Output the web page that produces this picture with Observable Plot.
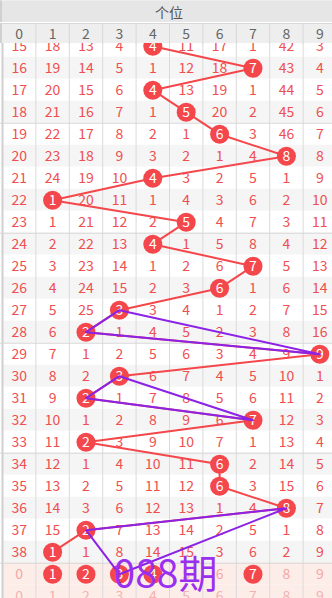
<!DOCTYPE html>
<html><head><meta charset="utf-8">
<script src="https://cdn.jsdelivr.net/npm/d3@7"></script>
<script src="https://cdn.jsdelivr.net/npm/@observablehq/plot@0.6"></script>
<style>
html,body{margin:0;padding:0;background:#fff;}
#wrap{position:relative;width:332px;height:598px;overflow:hidden;font-family:'Noto Sans CJK SC','Noto Sans',sans-serif;}
#hdr{position:absolute;left:0;top:0;width:336px;height:22px;background:#e6e6e6;border-top:1px solid #eeeeee;color:#555;font-size:14px;line-height:22px;text-align:center;border-left:2px solid #d0d0d0;box-sizing:border-box;}
#lbl{position:absolute;left:0;top:23px;width:336px;height:20px;background:#eeeeee;border-top:1px solid #d8d8d8;border-left:2px solid #d0d0d0;box-sizing:border-box;}
#chart{position:absolute;left:0;top:0;}
</style></head>
<body>
<div id="wrap">
  <div id="hdr">个位</div>
  <div id="lbl"></div>
  <div id="chart"></div>
</div>
<script>
const title = "个位";
const digits = [0,1,2,3,4,5,6,7,8,9];
const omission = [
  [15,18,13,4,4,11,17,1,42,3],
  [16,19,14,5,1,12,18,7,43,4],
  [17,20,15,6,4,13,19,1,44,5],
  [18,21,16,7,1,5,20,2,45,6],
  [19,22,17,8,2,1,6,3,46,7],
  [20,23,18,9,3,2,1,4,8,8],
  [21,24,19,10,4,3,2,5,1,9],
  [22,1,20,11,1,4,3,6,2,10],
  [23,1,21,12,2,5,4,7,3,11],
  [24,2,22,13,4,1,5,8,4,12],
  [25,3,23,14,1,2,6,7,5,13],
  [26,4,24,15,2,3,6,1,6,14],
  [27,5,25,3,3,4,1,2,7,15],
  [28,6,2,1,4,5,2,3,8,16],
  [29,7,1,2,5,6,3,4,9,9],
  [30,8,2,3,6,7,4,5,10,1],
  [31,9,2,1,7,8,5,6,11,2],
  [32,10,1,2,8,9,6,7,12,3],
  [33,11,2,3,9,10,7,1,13,4],
  [34,12,1,4,10,11,6,2,14,5],
  [35,13,2,5,11,12,6,3,15,6],
  [36,14,3,6,12,13,1,4,8,7],
  [37,15,2,7,13,14,2,5,1,8],
  [38,1,1,8,14,15,3,6,2,9]
];
const winners = [4,7,4,5,6,8,4,1,5,4,7,6,3,2,9,3,2,7,2,6,6,8,2,1];
const selectRowValues = [0,1,2,3,4,5,6,7,8,9];
const selectedDigits = [1,2,3,4,7];
const lastRowValues = [0,1,2,3,4,5,6,7,8,9];
// purple triangles: [row index, digit]
const triangleA = [[12,3],[13,2],[14,9]];
const triangleB = [[15,3],[16,2],[17,7]];
const triangleC = [[21,8],[22,2],[24,3]];
const annotation = [{text:"088期", d:4.38, row:24.05}];

const RED = "#f4474b";
const nRows = omission.length;
const selIdx = nRows, lastIdx = nRows + 1;

const cells = [];
omission.forEach((vals, i) => vals.forEach((v, d) => cells.push({i, d, v, win: winners[i] === d, fill: "#ef4f50"})));
selectRowValues.forEach((v, d) => cells.push({i: selIdx, d, v, win: selectedDigits.includes(d), fill: "#f6a6a6"}));
lastRowValues.forEach((v, d) => cells.push({i: lastIdx, d, v, win: false, fill: "#f3b2b0"}));

const bands = d3.range(lastIdx + 1).map(i => ({i, fill: i >= selIdx ? "#fdede8" : (i % 2 ? "#f5f5f5" : "#ffffff")}));
const path = winners.map((d, i) => ({i, d}));
const tris = [triangleA, triangleB, triangleC].flatMap((t, k) => [...t, t[0]].map(([i, d]) => ({k, i, d})));
const separators = d3.range(3, lastIdx, 5).map(i => i + 0.5);
const boundaries = digits.slice(0, -1).map(d => d + 0.5);
const xMin = digits[0] - 0.5, xMax = digits[digits.length - 1] + 0.5;

const chart = Plot.plot({
  width: 332, height: 598,
  marginTop: 43, marginLeft: 0, marginRight: 0, marginBottom: 0,
  style: {background: "transparent", fontFamily: "'Noto Sans CJK SC','Noto Sans',sans-serif"},
  x: {domain: [xMin, xMax], range: [2, 336], label: null},
  y: {domain: [0, 1], range: [45.7, 67.7], axis: null},
  color: {type: "identity"},
  marks: [
    Plot.rect(bands, {x1: xMin, x2: xMax, y1: d => d.i - 0.5, y2: d => d.i + 0.5, fill: "fill", clip: true}),
    Plot.ruleX(boundaries, {stroke: "#dadada", strokeWidth: 1, clip: true}),
    Plot.ruleX([xMin], {stroke: "#d0d0d0", strokeWidth: 2, clip: true}),
    Plot.ruleY(separators, {stroke: "#d6d6d6", strokeWidth: 1, clip: true}),
    Plot.axisX(boundaries, {anchor: "top", tickSize: 20, stroke: "#d8d8d8", tickFormat: () => ""}),
    Plot.axisX(digits, {anchor: "top", tickSize: 0, tickPadding: 5, fontSize: 14, fill: "#666", tickFormat: d => String(d)}),
    Plot.text(cells.filter(c => !c.win), {x: "d", y: "i", text: "v", fill: "fill", fontSize: 14, clip: true}),
    Plot.line(path, {x: "d", y: "i", stroke: RED, strokeWidth: 2, clip: true}),
    Plot.dot(cells.filter(c => c.win), {x: "d", y: "i", r: 9.5, fill: RED, stroke: "none", clip: true}),
    Plot.text(cells.filter(c => c.win), {x: "d", y: "i", text: "v", fill: "white", fontSize: 14, clip: true}),
    Plot.line(tris, {x: "d", y: "i", z: "k", stroke: "#8b22e6", strokeWidth: 2, clip: true}),
    Plot.text(annotation, {x: "d", y: "row", text: "text", fill: "#9a2ff0", fontSize: 39, clip: true})
  ]
});
document.getElementById("chart").appendChild(chart);
</script>
</body></html>
